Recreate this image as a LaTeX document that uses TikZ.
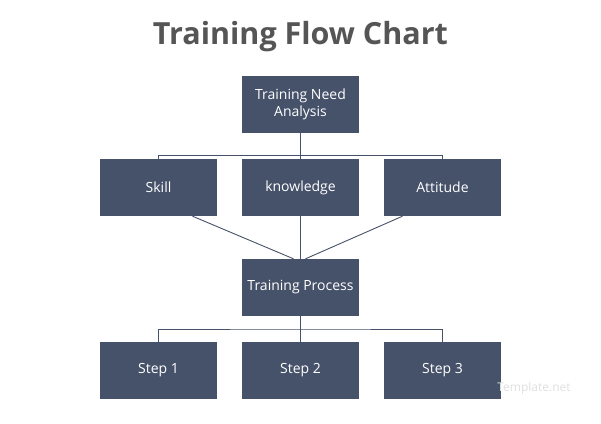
\documentclass[tikz,border=0pt]{standalone}
\usepackage{fontspec}
\setmainfont{Open Sans}
\definecolor{boxc}{RGB}{70,82,106}
\definecolor{titlec}{RGB}{85,85,85}
\begin{document}
\begin{tikzpicture}[x=1pt,y=-1pt,
  box/.style={fill=boxc,draw=none,text=white,minimum width=117pt,minimum height=57pt,inner sep=0pt,align=center,font=\fontsize{14}{17}\selectfont},
  conn/.style={draw=boxc,line width=0.9pt}]
\useasboundingbox[fill=white] (0,0) rectangle (601,423);
\node[font=\fontsize{30.5}{34}\selectfont\bfseries,text=titlec] (title) at (300.5,37) {Training Flow Chart};
\node[box] (tna) at (300.5,104.5) {Training Need\\Analysis};
\node[box] (skill) at (158.5,187.5) {Skill};
\node[box] (know) at (300.5,187.5) {knowledge};
\node[box] (att) at (442.5,187.5) {Attitude};
\node[box] (tp) at (300.5,287.5) {Training Process};
\node[box] (s1) at (158.5,370.5) {Step 1};
\node[box] (s2) at (300.5,370.5) {Step 2};
\node[box] (s3) at (442.5,370.5) {Step 3};
\node[text=black!12,font=\fontsize{12}{14}\selectfont] (wm) at (534,388) {Template.net};
\coordinate (j1) at (300.5,155.5);
\coordinate (j2) at (300.5,329);
\draw[conn] (tna.south) -- (j1);
\draw[conn] (skill.north) |- (j1) -| (att.north);
\draw[conn] (j1) -- (know.north);
\draw[conn] (tp.south) -- (j2);
\draw[conn] (s1.north) |- (j2) -| (s3.north);
\draw[conn] (j2) -- (s2.north);
\draw[conn] ([xshift=34pt]skill.south) -- ([xshift=-7pt]tp.north);
\draw[conn] (know.south) -- (tp.north);
\draw[conn] ([xshift=-40pt]att.south) -- ([xshift=5pt]tp.north);
\end{tikzpicture}
\end{document}
